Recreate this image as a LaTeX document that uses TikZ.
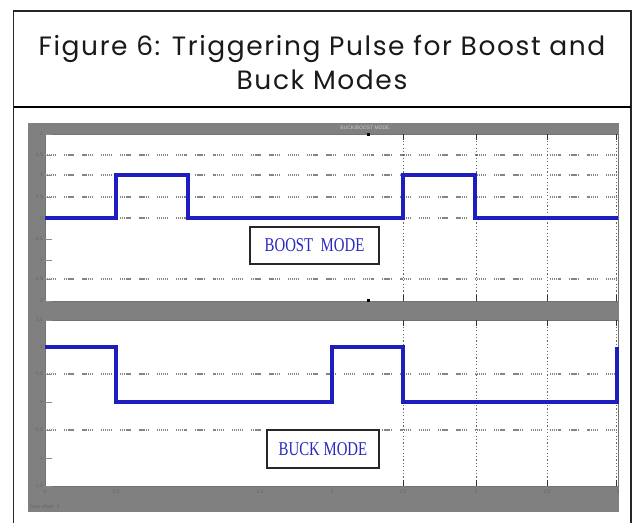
\documentclass[tikz,border=0pt]{standalone}
\usepackage{fontspec}
\setmainfont{Poppins}
\newfontfamily\legfont{Liberation Serif}
\newfontfamily\tinyfont{Liberation Sans}
\newfontfamily\titlefont[LetterSpace=6]{Poppins}
\definecolor{scopegray}{HTML}{808080}
\definecolor{wave}{HTML}{1E1EC0}
\definecolor{legblue}{HTML}{2828BE}
\begin{document}
\begin{tikzpicture}[x=1pt,y=-1pt,
  frameline/.style={line width=1.2pt,black!85},
  hgrid/.style={line width=1.1pt,black!48,dash pattern=on 1.2pt off 0.7pt on 1.2pt off 0.7pt on 1.2pt off 0.7pt on 1.2pt off 0.7pt on 1.2pt off 0.7pt on 1.2pt off 8pt},
  vgrid/.style={line width=0.8pt,black!60,dash pattern=on 1.2pt off 2.2pt},
  wavestyle/.style={line width=3.2pt,wave,line join=miter},
  legbox/.style={draw=black!85,line width=1.2pt,fill=white,inner sep=0pt},
  legtext/.style={legblue,font=\legfont\fontsize{19.5}{19.5}\selectfont,xscale=0.76},
  ticklab/.style={font=\tinyfont\fontsize{5}{5}\selectfont,black!60,inner sep=0pt},
  panel/.style={fill=white,draw=black!55,line width=0.6pt}]
\useasboundingbox (0,0) rectangle (633,523);
% outer frame (open at the bottom)
\draw[frameline] (13.5,523) -- (13.5,11) -- (631,11) -- (631,523);
\draw[line width=2pt,black] (13.5,107) -- (631,107);
% title
\node[font=\titlefont\fontsize{26.5}{34}\selectfont,align=center,black!90] (title) at (322,62)
  {Figure 6: Triggering Pulse for Boost and\\Buck Modes};
% scope background
\fill[scopegray] (28,123) rectangle (619,512);
\node[ticklab,black!20] (stitle) at (365,128) {BUCK/BOOST MODE};
% panels
\draw[panel] (45,134) rectangle (618,301);
\draw[panel] (45,320) rectangle (618,486);
% top panel grid
\foreach \yy in {155,175,197,218,279} \draw[hgrid] (45,\yy) -- (618,\yy);
\foreach \xx in {403,476,547,616} {
  \draw[vgrid] (\xx,134) -- (\xx,301);
  \draw[black!80,line width=0.8pt] (\xx,134) -- (\xx,140);
  \draw[black!80,line width=0.8pt] (\xx,301) -- (\xx,295);
  \draw[vgrid] (\xx,320) -- (\xx,486);
  \draw[black!80,line width=0.8pt] (\xx,320) -- (\xx,326);
  \draw[black!80,line width=0.8pt] (\xx,486) -- (\xx,480);
}
\fill[black] (366.5,133) rectangle (369.5,136);
\fill[black] (366.5,299) rectangle (369.5,302);
% bottom panel grid
\draw[hgrid] (45,374) -- (618,374);
\draw[hgrid] (45,430) -- (618,430);
% y tick marks and labels
\foreach \yy/\lab in {134/2,155/1.5,175/1,197/0.5,218/0,239/-0.5,260/-1,279/-1.5,301/-2} {
  \draw[black!45,line width=0.8pt] (45,\yy) -- (52,\yy);
  \node[ticklab,anchor=east] at (43,\yy) {\lab};
}
\foreach \yy/\lab in {320/1.5,347/1,374/0.5,402/0,430/-0.5,458/-1,486/-1.5} {
  \draw[black!45,line width=0.8pt] (45,\yy) -- (52,\yy);
  \node[ticklab,anchor=east] at (43,\yy) {\lab};
}
% x tick labels
\foreach \xx/\lab in {45/0,116/0.5,260/1.5,332/2,403/2.5,476/3,547/3.5,618/4}
  \node[ticklab,anchor=north] at (\xx,490) {\lab};
\node[ticklab,anchor=west] (toff) at (29,507) {Time offset: 0};
% waveforms
\draw[wavestyle] (45,218) -- (116,218) -- (116,175) -- (188,175) -- (188,218)
  -- (403,218) -- (403,175) -- (475,175) -- (475,218) -- (618,218);
\draw[wavestyle] (45,347) -- (116,347) -- (116,402) -- (332,402) -- (332,347)
  -- (403,347) -- (403,402) -- (617,402) -- (617,347);
% legends
\draw[legbox] (250,227) rectangle (379,264);
\node[legtext] (boost) at (314.5,245.5) {BOOST\ \ MODE};
\draw[legbox] (267,430) rectangle (379,468);
\node[legtext] (buck) at (323,449) {BUCK MODE};
\end{tikzpicture}
\end{document}
